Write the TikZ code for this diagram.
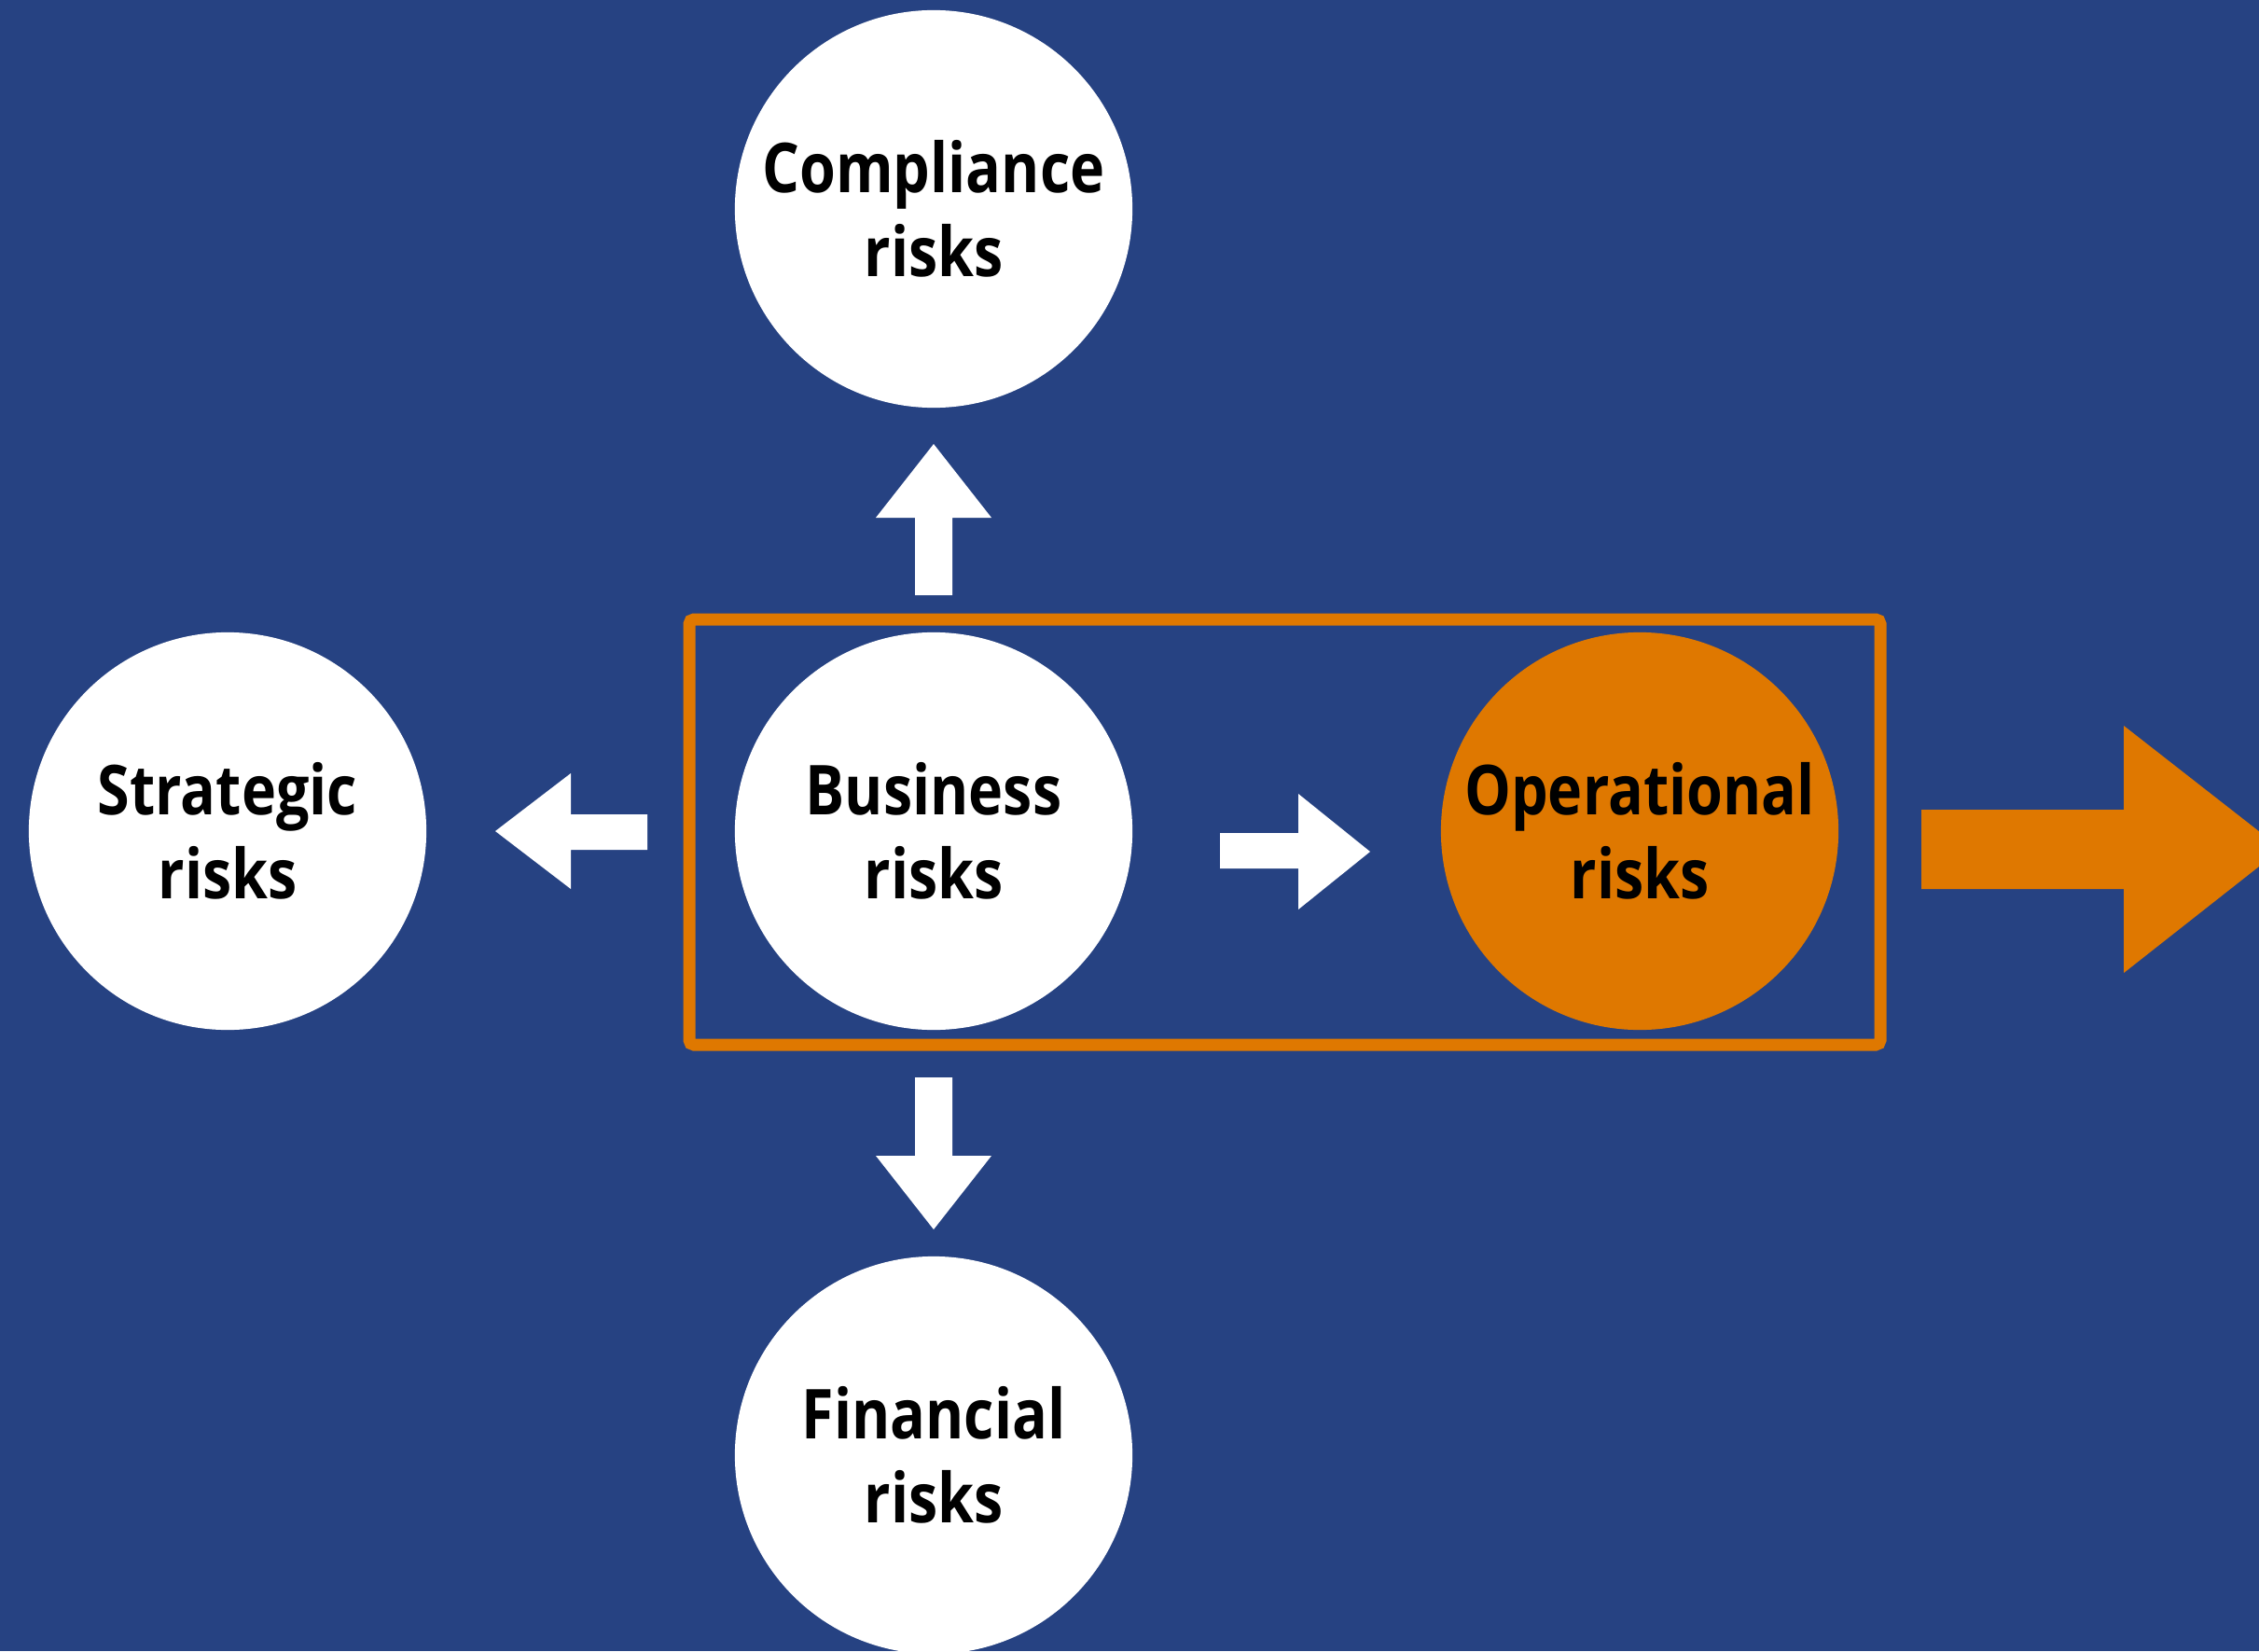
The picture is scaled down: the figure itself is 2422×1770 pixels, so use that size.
\documentclass[tikz,border=0pt]{standalone}
\usepackage{fontspec}
\usepackage{graphicx}
\setmainfont{Open Sans}
\definecolor{bg}{RGB}{38,66,130}
\definecolor{org}{RGB}{223,120,0}
\newcommand{\twolines}[2]{\scalebox{0.85}[1]{#1}\\\scalebox{0.85}[1]{#2}}
\begin{document}
\begin{tikzpicture}[x=0.01cm,y=-0.01cm,
  risk/.style={circle,fill=white,minimum size=4.26cm,inner sep=0pt,align=center,
     font=\fontsize{21}{25.5}\selectfont\bfseries,text=black}]
\useasboundingbox (0,0) rectangle (2422,1770);
\fill[bg] (0,0) rectangle (2422,1770);
\node[risk] (comp) at (1001,224) {\twolines{Compliance}{risks}};
\node[risk] (bus) at (1001,891) {\twolines{Business}{risks}};
\node[risk] (strat) at (244,891) {\twolines{Strategic}{risks}};
\node[risk] (fin) at (1001,1560) {\twolines{Financial}{risks}};
\node[risk,fill=org] (op) at (1758,891) {\twolines{Operational}{risks}};
\draw[org,line width=0.13cm,rounded corners=0.05cm] (739,664) rectangle (2016,1120);
% up arrow
\fill[white] (981,638) -- (981,555) -- (939,555) -- (1001,476) -- (1063,555) -- (1021,555) -- (1021,638) -- cycle;
% down arrow
\fill[white] (981,1155) -- (981,1239) -- (939,1239) -- (1001,1318) -- (1063,1239) -- (1021,1239) -- (1021,1155) -- cycle;
% left arrow
\fill[white] (694,873) -- (612,873) -- (612,829) -- (531,891) -- (612,953) -- (612,911) -- (694,911) -- cycle;
% right arrow
\fill[white] (1308,893) -- (1392,893) -- (1392,851) -- (1469,913) -- (1392,975) -- (1392,931) -- (1308,931) -- cycle;
% big orange arrow
\fill[org] (2060,868) -- (2277,868) -- (2277,778) -- (2446,910) -- (2277,1043) -- (2277,953) -- (2060,953) -- cycle;
\end{tikzpicture}
\end{document}
